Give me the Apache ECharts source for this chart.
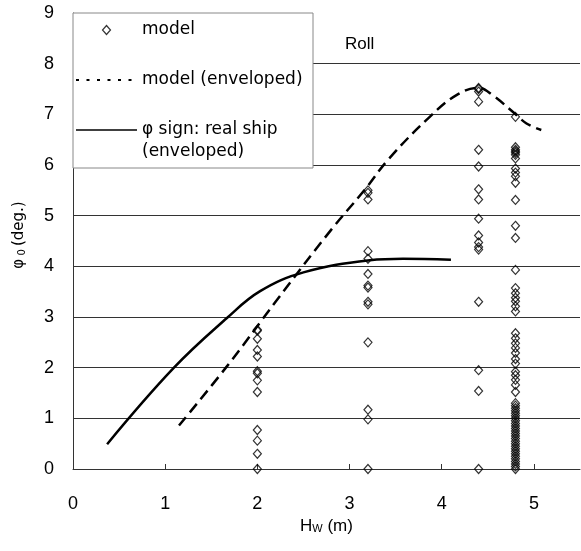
<!DOCTYPE html>
<html>
<head>
<meta charset="utf-8">
<script src="https://cdn.jsdelivr.net/npm/echarts@6/dist/echarts.min.js"></script>
<style>
  html, body { margin: 0; padding: 0; background: #fff; }
  #chart { width: 581px; height: 551px; }
</style>
</head>
<body>
<div id="chart"></div>
<script>
// Wave height columns of the model tests (m)
const modelHw = [2.0, 3.2, 4.4, 4.8];
// Measured roll amplitudes for each wave-height column (deg.)
const modelPhiAt20 = [2.75, 2.73, 2.57, 2.35, 2.22, 1.93, 1.89, 1.75, 1.52, 0.77, 0.56, 0.30, 0.0];
const modelPhiAt32 = [5.5, 5.45, 5.32, 4.3, 4.15, 3.85, 3.62, 3.58, 3.3, 3.25, 2.5, 1.17, 0.98, 0.0];
const modelPhiAt44 = [7.52, 7.5, 7.45, 7.25, 6.3, 5.97, 5.52, 5.32, 4.94, 4.61, 4.47, 4.38, 4.33, 3.3, 1.95, 1.54, 0.0];
const modelPhiAt48 = [6.95, 6.35, 6.3, 6.27, 6.24, 6.2, 6.13, 5.93, 5.85, 5.78, 5.65, 5.31, 4.8, 4.56,
  3.93, 3.57, 3.47, 3.38, 3.31, 3.21, 3.11, 2.68, 2.58, 2.48, 2.39, 2.29, 2.17, 2.08, 1.92, 1.85,
  1.76, 1.66, 1.52, 1.3, 1.25, 1.2, 1.15, 1.1, 1.05, 1.0, 0.95, 0.9, 0.85, 0.8, 0.75, 0.7, 0.65,
  0.6, 0.55, 0.5, 0.45, 0.4, 0.35, 0.3, 0.25, 0.2, 0.15, 0.1, 0.05, 0.0];

// Envelope of the model results
const envModelHw  = [1.15, 1.68, 2.21, 2.8, 3.16, 3.43, 3.87, 4.16, 4.4, 4.55, 4.77, 4.92, 5.08];
const envModelPhi = [0.86, 2.05, 3.33, 4.72, 5.5, 6.13, 6.95, 7.38, 7.52, 7.38, 7.05, 6.82, 6.69];

// Envelope of the real-ship roll sign
const shipHw  = [0.37, 1.09, 1.67, 2.03, 2.5, 3.22, 3.58, 4.1];
const shipPhi = [0.49, 1.99, 2.98, 3.51, 3.88, 4.12, 4.15, 4.13];

// Axis ticks
const xTicks = [0, 1, 2, 3, 4, 5];
const yTicks = [0, 1, 2, 3, 4, 5, 6, 7, 8, 9];

const modelColumns = [modelPhiAt20, modelPhiAt32, modelPhiAt44, modelPhiAt48];
const modelPoints = [];
modelColumns.forEach((col, i) => col.forEach(v => modelPoints.push([modelHw[i], v])));
const envModelData = envModelHw.map((x, i) => [x, envModelPhi[i]]);
const shipData = shipHw.map((x, i) => [x, shipPhi[i]]);

const NAME_MODEL = 'model';
const NAME_ENV = 'model (enveloped)';
const NAME_SHIP = 'φ sign: real ship';

const labelFont = 'Liberation Sans';
const textFont = 'DejaVu Sans';

// Legend icons: a small hollow diamond, a dotted line and a plain line
const diamondIcon = 'path://M4,0L8,4.5L4,9L0,4.5Z';
const hiddenMarker = { color: 'rgba(0,0,0,0)', borderWidth: 0, opacity: 0 };

const chart = echarts.init(document.getElementById('chart'), null, { renderer: 'canvas' });

chart.setOption({
  animation: false,
  backgroundColor: '#fff',
  grid: { left: 73, top: 13, right: 1, bottom: 82, containLabel: false, outerBoundsMode: 'none' },
  xAxis: {
    type: 'value',
    min: 0, max: 5.5, interval: 1,
    name: '{a|H}{s|W}{a| (m)}',
    nameLocation: 'middle',
    nameGap: 42,
    nameTextStyle: {
      rich: {
        a: { fontFamily: labelFont, fontSize: 17, color: '#000' },
        s: { fontFamily: labelFont, fontSize: 11, color: '#000', verticalAlign: 'bottom', padding: [6, 0, 0, 0] }
      }
    },
    axisLine: { show: true, lineStyle: { color: '#333', width: 1 } },
    axisTick: { show: true, inside: true, length: 5, customValues: xTicks, lineStyle: { color: '#333' } },
    axisLabel: { customValues: xTicks, margin: 26, fontFamily: labelFont, fontSize: 18, color: '#000' },
    splitLine: { show: false }
  },
  yAxis: {
    type: 'value',
    min: 0, max: 9, interval: 1,
    name: '{a|φ}{s| 0 }{a|(deg.)}',
    nameLocation: 'middle',
    nameGap: 46,
    nameTextStyle: {
      padding: [0, 0, 0, 12],
      rich: {
        a: { fontFamily: textFont, fontSize: 15, color: '#000' },
        s: { fontFamily: textFont, fontSize: 10, color: '#000', verticalAlign: 'bottom' }
      }
    },
    axisLine: { show: true, lineStyle: { color: '#333', width: 1 } },
    axisTick: { show: false },
    axisLabel: { customValues: yTicks, margin: 19, fontFamily: labelFont, fontSize: 18, color: '#000' },
    splitLine: {
      show: true,
      lineStyle: {
        width: 1,
        color: ['#333', '#333', '#333', '#333', '#333', '#333', '#333', '#333', '#333', 'rgba(0,0,0,0)']
      }
    }
  },
  legend: {
    orient: 'vertical',
    left: 73, top: 13,
    itemWidth: 61, itemHeight: 9, itemGap: 25,
    padding: [4.5, 2, 25.5, 2],
    symbolKeepAspect: true,
    backgroundColor: '#fff',
    borderColor: '#888', borderWidth: 1,
    textStyle: { fontFamily: textFont, fontSize: 17, color: '#000', lineHeight: 25, width: 169, overflow: 'none' },
    data: [
      { name: NAME_MODEL, icon: diamondIcon,
        itemStyle: { color: 'rgba(255,255,255,0)', borderColor: '#000', borderWidth: 1.2 } },
      { name: NAME_ENV, itemStyle: hiddenMarker,
        lineStyle: { type: [3, 7.5], width: 2, color: '#000' } },
      { name: NAME_SHIP, itemStyle: hiddenMarker,
        lineStyle: { type: 'solid', width: 1.5, color: '#000' } }
    ]
  },
  graphic: [
    { type: 'text', left: 142, top: 143, z: 100,
      style: { text: '(enveloped)', fontFamily: textFont, fontSize: 17, fill: '#000' } },
    { type: 'text', left: 345, top: 36, z: 100,
      style: { text: 'Roll', fontFamily: labelFont, fontSize: 17, fill: '#000' } }
  ],
  series: [
    {
      name: NAME_ENV,
      type: 'line',
      data: envModelData,
      smooth: 0.4,
      showSymbol: false,
      symbol: 'none',
      lineStyle: { color: '#000', width: 2.5, type: [11, 6] },
      z: 3
    },
    {
      name: NAME_SHIP,
      type: 'line',
      data: shipData,
      smooth: 0.4,
      showSymbol: false,
      symbol: 'none',
      lineStyle: { color: '#000', width: 2.5, type: 'solid' },
      z: 3
    },
    {
      name: NAME_MODEL,
      type: 'scatter',
      data: modelPoints,
      symbol: 'diamond',
      symbolSize: [8, 9],
      itemStyle: { color: 'rgba(255,255,255,0)', borderColor: '#000', borderWidth: 1.2 },
      z: 4
    }
  ]
});
</script>
</body>
</html>
